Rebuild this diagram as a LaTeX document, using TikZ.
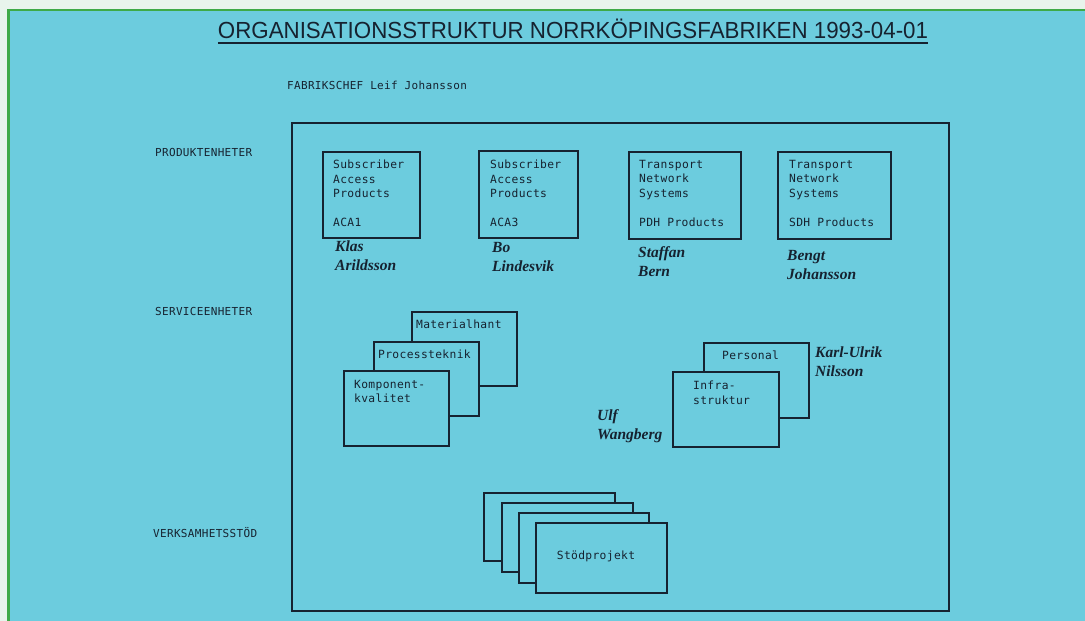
\documentclass[tikz,border=0pt]{standalone}
\usepackage{fontspec}
\usepackage{graphicx}
\newfontfamily\monof[LetterSpace=3]{DejaVu Sans Mono}
\newfontfamily\titlef{Liberation Sans}
\newfontfamily\namef{Liberation Serif}
\definecolor{bgcyan}{RGB}{108,204,222}
\definecolor{bordergreen}{RGB}{62,170,72}
\definecolor{paper}{RGB}{232,244,236}
\definecolor{ink}{RGB}{22,34,48}
\begin{document}
\begin{tikzpicture}[x=1pt,y=-1pt,
  boxst/.style={draw=ink,line width=1.8pt,fill=bgcyan,inner sep=0pt,anchor=north west},
  boxtxt/.style={font=\monof\fontsize{11.3}{14.5}\selectfont,text=ink,inner sep=0pt,anchor=north west,align=left},
  lbltxt/.style={font=\monof\fontsize{11}{12}\selectfont,text=ink,inner sep=0pt,anchor=west},
  nametxt/.style={font=\namef\bfseries\itshape\fontsize{15.5}{19}\selectfont,text=ink,inner sep=0pt,anchor=north west,align=left}]
\useasboundingbox (0,0) rectangle (1085,621);
\fill[paper] (0,0) rectangle (1085,621);
\fill[bgcyan] (9,10) rectangle (1085,621);
\draw[bordergreen,line width=2.5pt] (8.5,621) -- (8.5,10) -- (1085,10);
% title
\node[inner sep=0pt,anchor=base,text=ink] (title) at (573,38)
  {\titlef\resizebox{710pt}{19.5pt}{ORGANISATIONSSTRUKTUR NORRKÖPINGSFABRIKEN 1993-04-01}};
\draw[ink,line width=1.5pt] ([yshift=-4.5pt]title.south west) -- ([yshift=-4.5pt]title.south east);
\node[lbltxt] (chef) at (287,85) {FABRIKSCHEF Leif Johansson};
% left labels
\node[lbltxt] (prod) at (155,152) {PRODUKTENHETER};
\node[lbltxt] (serv) at (155,311) {SERVICEENHETER};
\node[lbltxt] (verk) at (153,533) {VERKSAMHETSSTÖD};
% main frame
\node[draw=ink,line width=1.5pt,inner sep=0pt,anchor=north west,minimum width=657pt,minimum height=488pt] (frame) at (291,122) {};
% product units
\node[boxst,minimum width=97pt,minimum height=86pt] (p1) at (322,151) {};
\node[boxst,minimum width=99pt,minimum height=87pt] (p2) at (478,150) {};
\node[boxst,minimum width=112pt,minimum height=87pt] (p3) at (628,151) {};
\node[boxst,minimum width=113pt,minimum height=87pt] (p4) at (777,151) {};
\node[boxtxt] (t1) at (333,160) {Subscriber\\Access\\Products\\[14.5pt]ACA1};
\node[boxtxt] (t2) at (490,160) {Subscriber\\Access\\Products\\[14.5pt]ACA3};
\node[boxtxt] (t3) at (639,160) {Transport\\Network\\Systems\\[14.5pt]PDH Products};
\node[boxtxt] (t4) at (789,160) {Transport\\Network\\Systems\\[14.5pt]SDH Products};
\node[nametxt] (n1) at (335,241) {Klas\\Arildsson};
\node[nametxt] (n2) at (492,242) {Bo\\Lindesvik};
\node[nametxt] (n3) at (638,246) {Staffan\\Bern};
\node[nametxt] (n4) at (787,250) {Bengt\\Johansson};
% service units, left stack
\node[boxst,minimum width=105pt,minimum height=74pt] (s3) at (411,311) {};
\node[boxtxt] (s3t) at (416,320) {Materialhant};
\node[boxst,minimum width=105pt,minimum height=74pt] (s2) at (373,341) {};
\node[boxtxt] (s2t) at (378,350) {Processteknik};
\node[boxst,minimum width=105pt,minimum height=75pt] (s1) at (343,370) {};
\node[boxtxt] (s1t) at (354,380) {Komponent-\\kvalitet};
% service units, right stack
\node[boxst,minimum width=105pt,minimum height=75pt] (r2) at (703,342) {};
\node[boxtxt] (r2t) at (722,351) {Personal};
\node[boxst,minimum width=106pt,minimum height=75pt] (r1) at (672,371) {};
\node[boxtxt] (r1t) at (693,381) {Infra-\\struktur};
\node[nametxt] (n5) at (815,347) {Karl-Ulrik\\Nilsson};
\node[nametxt] (n6) at (597,409) {Ulf\\Wangberg};
% support
\node[boxst,minimum width=131pt,minimum height=68pt] (v1) at (483,492) {};
\node[boxst,minimum width=131pt,minimum height=69pt] (v2) at (501,502) {};
\node[boxst,minimum width=130pt,minimum height=70pt] (v3) at (518,512) {};
\node[boxst,minimum width=131pt,minimum height=70pt] (v4) at (535,522) {};
\node[boxtxt,anchor=center] (v4t) at (596,556) {Stödprojekt};
\end{tikzpicture}
\end{document}
